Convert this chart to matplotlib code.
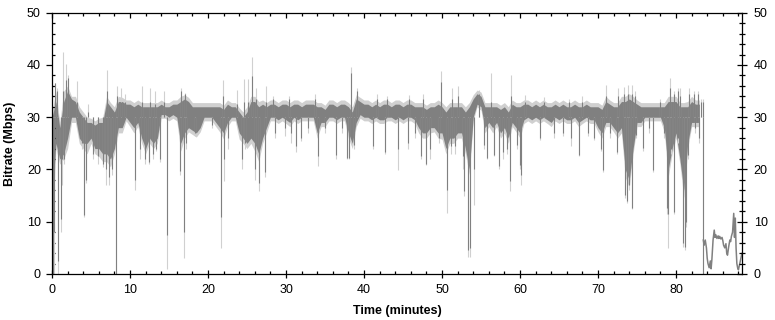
import matplotlib
matplotlib.use("Agg")
import matplotlib.pyplot as plt
import numpy as np
from matplotlib.ticker import MultipleLocator

plt.rcParams['font.family'] = ['Liberation Sans', 'DejaVu Sans']

DARK = '#808080'
LIGHT = '#d0d0d0'

# ---- main band, sampled every 0.5 minute from 0 to 83 ----
band_t = np.arange(0, 83.25, 0.5)

dark_lo = [14, 25, 22, 23, 26, 30, 30, 26, 25, 25,
           26, 24, 24, 23, 23, 22, 24, 28, 28, 30,
           29, 28, 29, 26, 24, 26, 25, 26, 30.5, 30.5,
           30, 30.5, 30, 25, 27, 28, 27.5, 27, 28, 30,
           30, 30, 29, 28, 27, 29, 30, 30, 27, 26,
           25, 26, 25, 23, 26, 28, 30, 30, 29.5, 30,
           29.5, 29, 30, 29.5, 30, 30, 30, 30, 27, 29,
           29, 30, 30, 29.5, 30, 30, 27, 25, 29, 30.5,
           30, 30, 29.5, 30, 29.5, 29.5, 30, 30, 29.5, 30,
           29.5, 30, 30, 29.5, 28, 27, 27, 28, 28, 27,
           27, 24, 26, 26, 27, 27, 24, 20, 30, 32.5,
           32, 28, 29, 28, 29, 27, 28, 26, 29, 28,
           27, 29.5, 30, 29.5, 30, 29.5, 30, 29.5, 29, 30,
           29.5, 30, 29.5, 29.5, 30, 29, 29.5, 30, 29.5, 29.5,
           28, 27, 29, 29, 28, 27, 28, 20, 18, 24,
           29, 29, 30, 30, 30, 30, 30, 28, 20, 24,
           27, 22, 16, 25, 29, 29, 29]

dark_hi = [30, 33, 28, 33, 35, 33.5, 33, 31, 30, 29,
           29, 28.5, 29, 29, 33, 32, 31, 33, 33, 32.5,
           32.5, 32, 32.5, 32, 32, 32, 32, 32, 32.5, 32,
           32, 32.5, 32.5, 33, 33.5, 33, 32, 32, 32, 32,
           32, 32, 32, 32, 31.5, 32.5, 32, 32, 31, 30,
           31, 33, 33, 32, 32.5, 32, 32.5, 32.5, 32, 32.5,
           32.5, 32, 32.5, 32.5, 32, 32.5, 32.5, 32.5, 32, 32,
           31.5, 32.5, 32.5, 32, 32.5, 32.5, 32, 31, 33.5, 33,
           32.5, 32.5, 32, 32.5, 32, 32.5, 32.5, 32, 32.5, 32.5,
           32, 32.5, 32.5, 32, 32, 32, 31.5, 32, 32, 32.5,
           32, 31, 32, 32, 32, 32, 31, 32, 33.5, 34.5,
           34, 32, 32, 32, 32, 31.5, 32, 31, 32.5, 32,
           32, 32.5, 32.5, 32, 32.5, 32, 32.5, 32, 32, 32.5,
           32, 32.5, 32, 32, 32.5, 32, 32, 32.5, 32, 32,
           32, 31.5, 33, 32.5, 32, 32, 33, 33, 33.5, 33,
           32.5, 32, 32, 32, 32, 32, 32, 32, 33, 33,
           33, 32, 32, 32, 33, 32.5, 32.5]

light_lo = [8, 24, 21, 22, 24, 29, 29, 25, 24, 23,
            25, 23, 22.5, 21.5, 21.5, 20.5, 23, 27, 27, 29.3,
            28.2, 27, 28.2, 25, 23, 25, 24, 25, 29.8, 29.8,
            29.3, 29.8, 29.3, 23.5, 26, 27.2, 26.7, 26.2, 27.2, 29.3,
            29.3, 29.3, 28.2, 27.2, 25.8, 28.2, 29.3, 29.3, 25.8, 25,
            24, 25, 23.5, 21.5, 25, 27, 29.3, 29.3, 28.8, 29.3,
            28.8, 28.2, 29.3, 28.8, 29.3, 29.3, 29.3, 29.3, 26, 28.2,
            28.2, 29.3, 29.3, 28.8, 29.3, 29.3, 26, 24, 28.2, 29.8,
            29.3, 29.3, 28.8, 29.3, 28.8, 28.8, 29.3, 29.3, 28.8, 29.3,
            28.8, 29.3, 29.3, 28.8, 27, 26, 26, 27, 27.2, 26,
            25.8, 23, 25, 25, 26, 26, 23, 19, 29.3, 32,
            31.3, 27, 28.2, 27, 28.2, 26, 27, 25, 28.2, 27.2,
            26, 28.8, 29.3, 28.8, 29.3, 28.8, 29.3, 28.8, 28.2, 29.3,
            28.8, 29.3, 28.8, 28.8, 29.3, 28.2, 28.8, 29.3, 28.8, 28.8,
            27.2, 26, 28.2, 28.2, 27.2, 26, 27, 18.5, 16.5, 23,
            28.2, 28.2, 29.3, 29.3, 29.3, 29.3, 29.3, 27.2, 18.5, 23,
            26, 21, 14.5, 24, 28.2, 28.2, 28.2]

light_hi = [31, 35, 29, 35, 36, 34, 34, 32, 31, 30,
            29.8, 29.3, 29.8, 30, 34, 32.8, 32, 34, 33.8, 33.3,
            33.3, 32.8, 33.3, 32.8, 32.8, 32.8, 32.8, 32.8, 33.3, 32.8,
            32.8, 33.3, 33.3, 34, 34.3, 33.8, 32.8, 32.8, 32.8, 32.8,
            32.8, 32.8, 32.8, 32.8, 32.3, 33.3, 32.8, 32.8, 31.8, 31,
            32, 34, 34, 33, 33.3, 32.8, 33.3, 33.3, 32.8, 33.3,
            33.3, 32.8, 33.3, 33.3, 32.8, 33.3, 33.3, 33.3, 32.8, 32.8,
            32.3, 33.3, 33.3, 32.8, 33.3, 33.3, 32.8, 32, 34.3, 33.8,
            33.3, 33.3, 32.8, 33.3, 32.8, 33.3, 33.3, 32.8, 33.3, 33.3,
            32.8, 33.3, 33.3, 32.8, 32.8, 32.8, 32.3, 32.8, 32.8, 33.3,
            32.8, 32, 32.8, 32.8, 32.8, 32.8, 32, 32.8, 34.3, 35.2,
            34.8, 32.8, 32.8, 32.8, 32.8, 32.3, 32.8, 32, 33.3, 32.8,
            32.8, 33.3, 33.3, 32.8, 33.3, 32.8, 33.3, 32.8, 32.8, 33.3,
            32.8, 33.3, 32.8, 32.8, 33.3, 32.8, 32.8, 33.3, 32.8, 32.8,
            32.8, 32.3, 34, 33.3, 32.8, 32.8, 34, 34, 34.5, 34,
            33.3, 32.8, 32.8, 32.8, 32.8, 32.8, 32.8, 32.8, 34, 34,
            34, 32.8, 32.8, 33, 34, 33.3, 33.3]

# ---- individual downward spikes: time, dark minimum, light minimum ----
dip_t = [0.1, 0.3, 0.8, 1.1, 1.3, 1.5, 3.8, 4.15, 4.4, 5.3, 5.9, 6.5, 6.9, 7.3, 7.7, 8.15,
         10.6, 11.3, 11.9, 12.4, 12.9, 13.3, 13.8, 14.75, 16.4, 16.9, 17.2, 18.3, 20.5,
         21.65, 22.1, 22.6, 24.3, 24.8, 26.0, 26.5, 27.3, 28.6, 29.9, 30.6, 31.3, 31.9,
         32.8, 34.1, 35.0, 36.4, 37.2, 37.8, 38.05, 38.7, 41.2, 42.7, 44.4, 45.7, 46.6,
         47.3, 47.9, 48.4, 49.6, 50.6, 51.2, 51.7, 52.7, 52.8, 53.35, 53.55, 54.1,
         55.4, 55.8, 56.7, 57.3, 57.8, 58.3, 58.7, 59.6, 59.95, 60.1, 62.6, 64.3, 65.5,
         66.6, 67.6, 68.7, 69.5, 70.4, 70.6, 71.6, 72.4, 73.4, 73.7, 74.0, 74.3, 74.9,
         75.8, 76.5, 77.1, 78.4, 78.85, 79.0, 79.3, 79.75, 80.3, 80.9, 81.1, 81.3, 81.6,
         82.4, 82.9, 83.45]
dip_dark = [0, 8, 2.5, 10.5, 22, 22, 25, 11.3, 18, 23, 22.5, 21, 20, 18.5, 20, 0,
            18, 24, 22, 21.5, 23, 24, 22, 7.5, 19.8, 8.1, 25, 27, 28.5,
            11, 22, 26, 22, 25, 20, 17.4, 19.5, 27, 28, 27, 24.4, 26,
            28, 22.5, 28, 22.8, 28, 22.2, 22.2, 24.7, 24.4, 23.4, 24, 25, 27,
            22.6, 21, 24, 26, 16.1, 24.4, 24.5, 22.5, 15.8, 4.6, 4.9, 20,
            24.7, 22.2, 22.8, 20.6, 23.4, 24, 17.7, 24.7, 20.9, 19, 26, 27, 27,
            26, 22.8, 27, 26, 24, 19.9, 27, 23.4, 15.1, 13.9, 17, 12.6, 26.6,
            24.1, 28, 19.9, 27, 12.6, 11.5, 24, 11.9, 26, 6, 5.2, 10, 22.8,
            28, 26, 0]
dip_light = [0, 0, 0, 8, 17, 21, 24, 11, 17.5, 22, 21, 20.5, 17, 17, 19, 0,
             16, 22, 21, 21, 22, 23.5, 21.5, 1, 19, 3, 24, 26.5, 28,
             5, 17.7, 24, 20, 24, 18, 15.8, 18.6, 26, 26.5, 25, 23.4, 25.5,
             27, 20.6, 27, 22, 27, 22, 22, 24, 24, 23, 19.9, 24, 26,
             22, 20.9, 22, 25, 11.6, 23, 23, 20, 15, 3.3, 3.3, 13.2,
             24, 22, 22.6, 20, 22, 23, 15.8, 24, 20, 17, 25.7, 26, 26.5,
             24.4, 22.5, 26.5, 25.7, 23.5, 19.5, 26, 23, 14.5, 13.5, 16, 12.5, 26,
             23.5, 27, 19.5, 26, 11.5, 4.9, 23, 11.5, 25, 5.2, 4.6, 9, 22,
             27, 25, 0]

# ---- individual upward spikes: time, dark maximum, light maximum ----
peak_t = [0.35, 0.6, 1.4, 1.75, 2.1, 3.25, 4.6, 7.0, 8.3, 8.8, 9.3, 11.6, 12.6, 13.2,
          14.3, 16.6, 17.0, 21.9, 23.7, 24.6, 25.1, 25.7, 26.2, 27.4, 28.3, 30.4, 33.7,
          38.3, 39.1, 41.7, 42.9, 45.8, 47.5, 49.9, 51.3, 52.1, 54.7, 56.3, 58.8, 60.6,
          63.1, 66.3, 67.9, 71.0, 72.6, 73.3, 73.8, 74.4, 74.7, 78.0, 79.2, 79.7, 80.3,
          80.5, 81.7, 82.3, 82.8, 83.2, 83.4]
peak_dark = [36.5, 35, 35, 37.2, 37.5, 33, 31, 35, 34, 33, 33, 33, 33, 32.5,
             33, 35, 34.5, 34, 32.5, 33, 33, 37.8, 33.5, 33, 33.5, 33.5, 33.5,
             38.4, 35, 33.5, 33.5, 33.5, 33.5, 36.8, 33.5, 34, 34.5, 33, 34, 33,
             33, 33, 33, 34, 34, 34.5, 34.5, 34.5, 34, 33, 35.5, 34.5, 35,
             34, 34.5, 34.5, 34.5, 33, 33]
peak_light = [36.5, 35.5, 42.4, 40.2, 38, 37, 32.5, 39, 36, 35.5, 34.5, 36, 35.5, 35,
              35, 35.5, 34.7, 37.2, 35.3, 37.4, 37.3, 41.6, 35.5, 35.9, 34, 34, 34.4,
              39.7, 35.6, 34.4, 34, 34.3, 34.5, 38.8, 35.5, 36, 35.2, 38.4, 38, 34.2,
              33.8, 33.5, 34, 36.2, 35.5, 35.8, 36.2, 36.2, 35, 33.5, 37.6, 35, 35.5,
              35.5, 35.5, 35, 35, 33.5, 33.5]

# ---- final low-rate tail after the drop ----
tail_t = [83.5, 83.6, 83.75, 83.9, 84.0, 84.1, 84.25, 84.4, 84.5, 84.6, 84.75, 84.9,
          85.0, 85.1, 85.25, 85.4, 85.5, 85.6, 85.75, 85.9, 86.0, 86.1, 86.25, 86.4,
          86.5, 86.6, 86.75, 86.9, 87.0, 87.1, 87.25, 87.4, 87.5, 87.6, 87.7, 87.8,
          87.9, 88.0, 88.1, 88.25, 88.4, 88.5]
tail_v = [6.5, 5.5, 6.5, 5.0, 3.0, 2.0, 1.2, 2.5, 1.0, 2.8, 6.5, 8.4,
          7.0, 7.5, 6.8, 7.3, 6.8, 7.2, 6.7, 7.0, 6.4, 5.5, 5.0, 5.8,
          4.0, 3.6, 5.2, 6.5, 6.2, 7.2, 8.0, 11.6, 7.0, 10.7, 5.0, 2.0,
          1.2, 0.8, 1.5, 2.5, 3.6, 4.0]

x_major = 10
y_major = 10

fig = plt.figure(figsize=(7.75, 3.2), dpi=100)
ax = fig.add_axes([52 / 775, 1 - 274 / 320, 690 / 775, (274 - 12.7) / 320])

base = 30
ax.fill_between(band_t, light_lo, light_hi, color=LIGHT, lw=0)
ax.vlines(dip_t, dip_light, base, color=LIGHT, lw=0.8)
ax.vlines(peak_t, base, peak_light, color=LIGHT, lw=0.8)
ax.fill_between(band_t, dark_lo, dark_hi, color=DARK, lw=0)
ax.vlines(dip_t, dip_dark, base, color=DARK, lw=0.8)
ax.vlines(peak_t, base, peak_dark, color=DARK, lw=0.8)
ax.plot(tail_t, tail_v, color=DARK, lw=1.1)

ax.set_xlim(0, 88.46)
ax.set_ylim(0, 50)
ax.xaxis.set_major_locator(MultipleLocator(x_major))
ax.xaxis.set_minor_locator(MultipleLocator(2))
ax.yaxis.set_major_locator(MultipleLocator(y_major))
ax.yaxis.set_minor_locator(MultipleLocator(2))

for sp in ax.spines.values():
    sp.set_linewidth(0.9)
    sp.set_color('black')

ax.tick_params(axis='x', which='major', direction='inout', length=6, width=0.9,
               labelsize=9, pad=4, top=False)
ax.tick_params(axis='x', which='minor', direction='in', length=2.5, width=0.9, top=False)
ax.tick_params(axis='y', which='major', direction='out', length=4, width=0.9,
               labelsize=9, pad=4, right=False)
ax.tick_params(axis='y', which='minor', direction='in', length=2.5, width=0.9, right=False)

ax2 = ax.twinx()
ax2.set_ylim(0, 50)
ax2.yaxis.set_major_locator(MultipleLocator(y_major))
ax2.yaxis.set_minor_locator(MultipleLocator(2))
ax2.tick_params(axis='y', which='major', direction='inout', length=7, width=0.9,
                labelsize=9, pad=5)
ax2.tick_params(axis='y', which='minor', direction='inout', length=4, width=0.9)
for sp in ax2.spines.values():
    sp.set_visible(False)

ax3 = ax.twiny()
ax3.set_xlim(0, 88.46)
ax3.xaxis.set_major_locator(MultipleLocator(x_major))
ax3.xaxis.set_minor_locator(MultipleLocator(2))
ax3.tick_params(axis='x', which='major', direction='in', length=3.5, width=0.9,
                labeltop=False)
ax3.tick_params(axis='x', which='minor', direction='in', length=2.5, width=0.9)
for sp in ax3.spines.values():
    sp.set_visible(False)

ax.set_xlabel('Time (minutes)', fontsize=9, fontweight='bold')
ax.set_ylabel('Bitrate (Mbps)', fontsize=9, fontweight='bold')
ax.xaxis.set_label_coords(0.5, -0.118)
ax.yaxis.set_label_coords(-0.052, 0.5)

fig.savefig('out.png', dpi=100)
